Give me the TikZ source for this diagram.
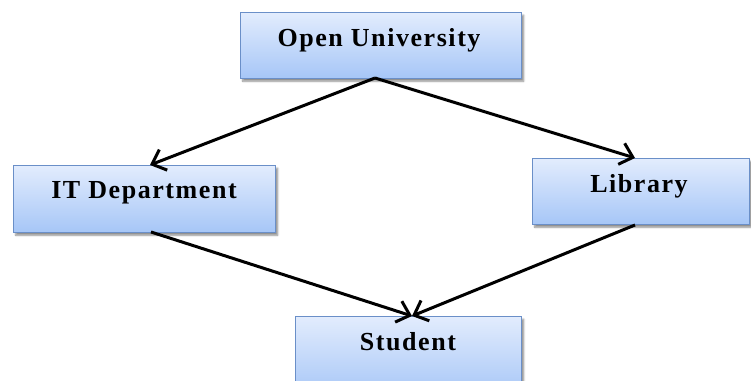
\documentclass[tikz,border=0pt]{standalone}
\usepackage{fontspec}
\setmainfont{Liberation Serif}
\newfontfamily\labelfont[LetterSpace=6]{Liberation Serif}
\usetikzlibrary{shadows.blur,arrows.meta}
\definecolor{boxtop}{HTML}{E2ECFD}
\definecolor{boxbot}{HTML}{A6C6F7}
\definecolor{boxline}{HTML}{6A8FC8}
\tikzset{
  unitbox/.style={draw=boxline, line width=1.4pt, top color=boxtop, bottom color=boxbot,
    blur shadow={shadow xshift=2pt, shadow yshift=-2.5pt, shadow blur steps=5, shadow opacity=45},
    inner sep=0pt, anchor=north west},
  boxtext/.style={font=\labelfont\fontsize{26}{30}\selectfont\bfseries},
  link/.style={-{Straight Barb[length=12pt,width=22pt,line width=3pt]}, line width=3pt, black}
}
\begin{document}
\begin{tikzpicture}[x=1pt,y=-1pt]
\useasboundingbox (0,0) rectangle (751,380);
\clip (0,0) rectangle (751,380);
\node[unitbox, minimum width=281pt, minimum height=66pt] (ou) at (240,12) {};
\node[boxtext] (tou) at (379,40) {Open University};
\node[unitbox, minimum width=262pt, minimum height=67pt] (it) at (13,165) {};
\node[boxtext] (tit) at (144,193) {IT Department};
\node[unitbox, minimum width=217pt, minimum height=66pt] (lib) at (532,158) {};
\node[boxtext] (tlib) at (639,186) {Library};
\node[unitbox, minimum width=226pt, minimum height=80pt] (st) at (295,316) {};
\node[boxtext] (tst) at (408,342) {Student};
\coordinate (oub) at (375,78);
\coordinate (itt) at (150,165);
\coordinate (libt) at (635,158);
\coordinate (itb) at (151,232);
\coordinate (libb) at (635,225);
\coordinate (stt) at (412,316);
\draw[link] (oub) -- (itt);
\draw[link] (oub) -- (libt);
\draw[link] (itb) -- (stt);
\draw[link] (libb) -- (stt);
\end{tikzpicture}
\end{document}
